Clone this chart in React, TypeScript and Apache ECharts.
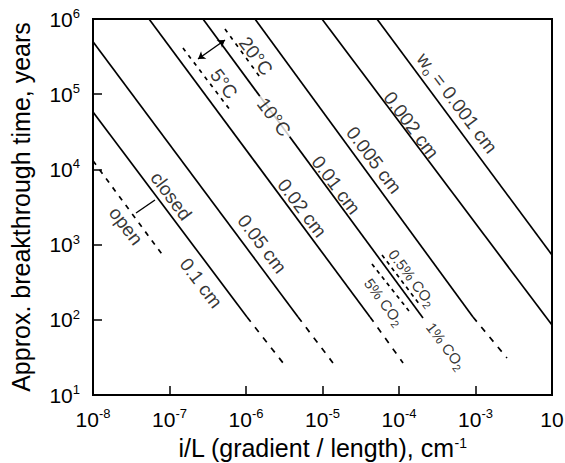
import React, { useEffect, useRef } from 'react';
import * as echarts from 'echarts';

const FONT = '"Liberation Sans", Arial, Helvetica, sans-serif';

// Axis ranges (i/L in cm^-1, time in years)
const xRange = [1e-8, 1e-2];
const yRange = [1e1, 1e6];

// Aperture width lines w0: solid part start / end, and dashed continuation end
const apertureNames = ['0.001 cm', '0.002 cm', '0.005 cm', '0.01 cm', '0.02 cm', '0.05 cm', '0.1 cm'];
const solidStart: number[][] = [
  [5.15e-5, 1e6], [9.84e-6, 1e6], [1.31e-6, 1e6], [2.74e-7, 1e6], [5.4e-8, 1e6], [1e-8, 5.0e5], [1e-8, 5.8e4],
];
const solidEnd: number[][] = [
  [1e-2, 728], [1e-2, 85], [9.27e-4, 109], [2.06e-4, 106], [4.18e-5, 109], [4.79e-6, 109], [1.03e-6, 109],
];
const dashedEnd: (number[] | null)[] = [
  null, null, [2.58e-3, 31], null, [1.13e-4, 26.7], [1.37e-5, 26.7], [3.05e-6, 26.7],
];

// Variant lines (dashed)
const openLine = [[1e-8, 1.3e4], [8.7e-8, 660]];
const temp20Line = [[5.31e-7, 7.36e5], [1.62e-6, 1.55e5]];
const temp5Line = [[1.5e-7, 4.11e5], [6.18e-7, 6.17e4]];
const co2HalfLine = [[6.0e-5, 728], [1.88e-4, 157]];
const co2FiveLine = [[4.43e-5, 552], [1.35e-4, 131]];

// Annotation connectors
const tempArrow = [[2.36e-7, 2.94e5], [5.31e-7, 5.26e5]];
const openClosedLink = [[3.65e-8, 2630], [6.46e-8, 3920]];

// In-plot labels
const labelText = [
  'w{sub|o} = 0.001 cm', '0.002 cm', '0.005 cm', '0.01 cm', '0.02 cm', '0.05 cm', '0.1 cm',
  'closed', 'open', '10°C', '20°C', '5°C',
  '0.5% CO{sub|2}', '5% CO{sub|2}', '1% CO{sub|2}',
];
const labelPos: number[][] = [
  [5.73e-4, 7.64e4], [1.44e-4, 3.89e4], [4.71e-5, 1.33e4], [1.5e-5, 6.2e3], [5.4e-6, 3.07e3],
  [1.62e-6, 1.02e3], [2.58e-7, 308], [1.05e-7, 4.43e3], [2.7e-8, 1.77e3], [2.32e-6, 4.98e4],
  [1.35e-6, 3.22e5], [5.15e-7, 1.37e5], [1.48e-4, 360], [6.37e-5, 173], [4.11e-4, 44.9],
];

const xTitle = 'i/L (gradient / length), cm{sup|-1}';
const yTitle = 'Approx. breakthrough time, years';

export default function App() {
  const ref = useRef<HTMLDivElement>(null);
  useEffect(() => {
    const chart = echarts.init(ref.current!, null, { renderer: 'svg' });
    const LW = 1.7;
    const lineSeries = (name: string, pts: number[][], dash: any, width = LW) => ({
      name,
      type: 'line',
      data: pts,
      symbol: 'none',
      silent: true,
      z: 2,
      lineStyle: { color: '#000', width, type: dash },
    });
    const series: any[] = [];
    apertureNames.forEach((n, i) => {
      series.push(lineSeries(n, [solidStart[i], solidEnd[i]], 'solid'));
      const d = dashedEnd[i];
      if (d) series.push(lineSeries(n + ' ext', [solidEnd[i], d], [6, 7]));
    });
    series.push(lineSeries('open', openLine, [5, 6]));
    series.push(lineSeries('20C', temp20Line, [4, 5]));
    series.push(lineSeries('5C', temp5Line, [4, 5]));
    series.push(lineSeries('0.5CO2', co2HalfLine, [4, 4]));
    series.push(lineSeries('5CO2', co2FiveLine, [4, 4]));
    series.push(lineSeries('link', openClosedLink, 'solid', 1.4));
    series.push({
      type: 'lines',
      coordinateSystem: 'cartesian2d',
      silent: true,
      symbol: ['arrow', 'arrow'],
      symbolSize: 7,
      lineStyle: { color: '#000', width: 1.4, opacity: 1 },
      data: [{ coords: tempArrow }],
      z: 3,
    });
    series.push({
      type: 'scatter',
      silent: true,
      symbol: 'circle',
      symbolSize: 1,
      itemStyle: { color: 'rgba(0,0,0,0)' },
      z: 5,
      data: labelPos.map((p, i) => {
        const small = i >= 12;
        const fs = small ? 15 : 19;
        return {
          value: p,
          label: {
            show: true,
            position: 'inside',
            formatter: labelText[i],
            rotate: -53,
            color: '#000',
            fontFamily: FONT,
            fontSize: fs,
            lineHeight: fs + 5,
            backgroundColor: i === 9 ? '#fff' : 'transparent',
            padding: i === 9 ? [0, 4] : 0,
            rich: {
              sub: {
                fontFamily: FONT,
                fontSize: small ? 11 : 12,
                lineHeight: small ? 11 : 12,
                verticalAlign: 'bottom',
                color: '#000',
              },
            },
          },
        };
      }),
    });

    const supRich = { sup: { fontFamily: FONT, fontSize: 13, lineHeight: 13, verticalAlign: 'top', color: '#000' } };
    const fmt = (v: number) => '10{sup|' + Math.round(Math.log10(v)) + '}';
    // the last x label is cut at the page edge in the original, leaving only "10"
    const fmtX = (v: number) => (Math.round(Math.log10(v)) >= Math.round(Math.log10(xRange[1])) ? '10' : fmt(v));

    chart.setOption({
      animation: false,
      textStyle: { fontFamily: FONT },
      grid: {
        left: 93, right: 13, top: 19, bottom: 68,
        containLabel: false, outerBoundsMode: 'none',
        show: true, borderColor: '#000', borderWidth: 2, backgroundColor: 'transparent',
      },
      xAxis: {
        type: 'log',
        logBase: 10,
        min: xRange[0],
        max: xRange[1],
        interval: 1,
        name: xTitle,
        nameLocation: 'middle',
        nameGap: 29,
        nameTextStyle: { color: '#000', fontSize: 25, fontFamily: FONT, rich: { sup: { fontFamily: FONT, fontSize: 14, lineHeight: 14, verticalAlign: 'top', color: '#000' } } },
        axisLine: { lineStyle: { color: '#000', width: 2 } },
        axisTick: { inside: true, length: 9, lineStyle: { color: '#000', width: 1.5 } },
        splitLine: { show: false },
        minorTick: { show: false },
        axisLabel: { color: '#000', fontSize: 21, lineHeight: 24, margin: 12, fontFamily: FONT, formatter: fmtX, rich: supRich, showMinLabel: true, showMaxLabel: true, hideOverlap: false },
      },
      yAxis: {
        type: 'log',
        logBase: 10,
        min: yRange[0],
        max: yRange[1],
        interval: 1,
        name: yTitle,
        nameLocation: 'middle',
        nameGap: 60,
        nameTextStyle: { color: '#000', fontSize: 25, fontFamily: FONT },
        axisLine: { lineStyle: { color: '#000', width: 2 } },
        axisTick: { inside: true, length: 9, lineStyle: { color: '#000', width: 1.5 } },
        splitLine: { show: false },
        minorTick: { show: false },
        axisLabel: { color: '#000', fontSize: 21, lineHeight: 24, margin: 13, fontFamily: FONT, formatter: fmt, rich: supRich, showMinLabel: true, showMaxLabel: true, hideOverlap: false },
      },
      series,
    });
    return () => chart.dispose();
  }, []);
  return <div ref={ref} style={{ position: 'fixed', left: 0, top: 0, width: 565, height: 463, background: '#fff' }} />;
}
